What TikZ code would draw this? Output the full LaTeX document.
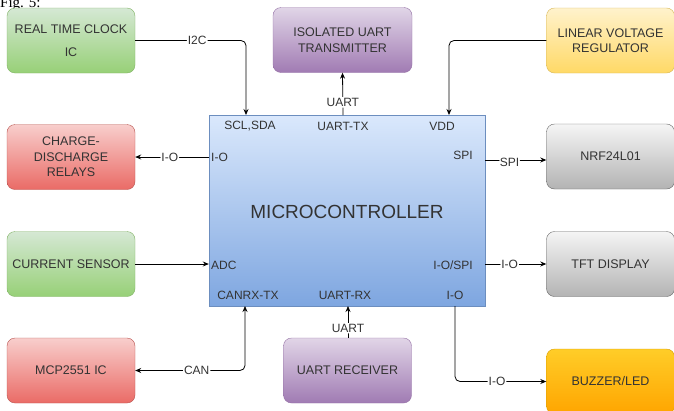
\documentclass[tikz,border=0pt]{standalone}
\usepackage{fontspec}
\setmainfont{Liberation Sans}
\newfontfamily\figfont{Liberation Serif}
\usetikzlibrary{arrows.meta,calc}
\definecolor{txtgray}{HTML}{333333}
\definecolor{grnTop}{HTML}{D5E8D4}
\definecolor{grnBot}{HTML}{97D077}
\definecolor{grnLine}{HTML}{82B366}
\definecolor{redTop}{HTML}{F8CECC}
\definecolor{redBot}{HTML}{EA6B66}
\definecolor{redLine}{HTML}{B85450}
\definecolor{purTop}{HTML}{E1D5E7}
\definecolor{purBot}{HTML}{A07BB3}
\definecolor{purLine}{HTML}{9673A6}
\definecolor{ylwTop}{HTML}{FFF2CC}
\definecolor{ylwBot}{HTML}{FFD966}
\definecolor{ylwLine}{HTML}{D6B656}
\definecolor{gryTop}{HTML}{F5F5F5}
\definecolor{gryBot}{HTML}{B3B3B3}
\definecolor{gryLine}{HTML}{666666}
\definecolor{bluTop}{HTML}{DAE8FC}
\definecolor{bluBot}{HTML}{7EA6E0}
\definecolor{bluLine}{HTML}{6C8EBF}
\definecolor{orgTop}{HTML}{FFCD28}
\definecolor{orgBot}{HTML}{FFA500}
\definecolor{orgLine}{HTML}{D79B00}

\begin{document}
\begin{tikzpicture}[
    x=1pt, y=-1pt,
    >={Stealth[length=6pt,width=5pt]},
    blk/.style={rounded corners=8pt, minimum width=128pt, minimum height=65pt,
                inner sep=2pt, align=center, text=txtgray,
                font=\fontsize{12.5}{15.5}\selectfont},
    green/.style={blk, draw=grnLine, top color=grnTop, bottom color=grnBot},
    red/.style={blk, draw=redLine, top color=redTop, bottom color=redBot},
    purple/.style={blk, draw=purLine, top color=purTop, bottom color=purBot},
    yellow/.style={blk, draw=ylwLine, top color=ylwTop, bottom color=ylwBot},
    grey/.style={blk, draw=gryLine, top color=gryTop, bottom color=gryBot},
    orange/.style={blk, draw=orgLine, top color=orgTop, bottom color=orgBot},
    mcu/.style={draw=bluLine, top color=bluTop, bottom color=bluBot,
                minimum width=276pt, minimum height=191pt},
    pin/.style={text=txtgray, inner sep=0pt, font=\fontsize{12}{14}\selectfont},
    bus/.style={draw=black, line width=0.8pt, rounded corners=5pt},
    lbl/.style={fill=white, inner sep=1pt, text=txtgray,
                font=\fontsize{12}{14}\selectfont},
]
\useasboundingbox (0,0) rectangle (674,410);

\node[anchor=base west, inner sep=0pt] (fig) at (0,7)
    {\figfont\fontsize{15}{15}\selectfont Fig. 5:};

% =====================================================================
% microcontroller and its pins
% =====================================================================
\node[mcu] (micro) at (347,210.5) {};
\node[text=txtgray, font=\fontsize{19}{21}\selectfont] (mname) at (347,212) {MICROCONTROLLER};

\node[pin] (sclsda) at (250,126) {SCL,SDA};
\node[pin] (uarttx) at (343,126) {UART-TX};
\node[pin] (vdd)    at (442,126) {VDD};
\node[pin, anchor=west] (iol) at (211,157) {I-O};
\node[pin, anchor=east] (spi) at (473,155) {SPI};
\node[pin, anchor=west] (adc) at (211,265) {ADC};
\node[pin, anchor=east] (iospi) at (473,265) {I-O/SPI};
\node[pin] (canrxtx) at (248,295) {CANRX-TX};
\node[pin] (uartrx)  at (345,295) {UART-RX};
\node[pin] (iob)     at (455,295) {I-O};

% pin points on the border
\coordinate (pSCL) at (246,115);
\coordinate (pTX)  at (343,115);
\coordinate (pVDD) at (449,115);
\coordinate (pCAN) at (245,306);
\coordinate (pRX)  at (348,306);
\coordinate (pIO)  at (455,306);

% =====================================================================
% peripheral blocks
% =====================================================================
\node[green]  (rtc)   at (71,40.5)  {REAL TIME CLOCK\\[7pt]IC};
\node[purple, minimum width=139pt] (isotx) at (342.5,40) {ISOLATED UART\\TRANSMITTER};
\node[yellow] (lvr)   at (610.5,40.5) {LINEAR VOLTAGE\\REGULATOR};
\node[red]    (relay) at (71,157)   {CHARGE-\\DISCHARGE\\RELAYS};
\node[grey]   (nrf)   at (610.5,156.5) {NRF24L01};
\node[green]  (cur)   at (71,264)   {CURRENT SENSOR};
\node[grey]   (tft)   at (610.5,264) {TFT DISPLAY};
\node[red]    (mcp)   at (71,370.5) {MCP2551 IC};
\node[purple] (uartrxb) at (347.5,370.5) {UART RECEIVER};
\node[orange] (buzz)  at (610.5,381.5) {BUZZER/LED};

% =====================================================================
% connections
% =====================================================================
\draw[bus,->] (rtc.east) -| (pSCL) node[lbl, pos=0.28] {I2C};
\draw[bus,->] (pTX) -- (isotx.south) node[lbl, pos=0.3] {UART};
\draw[bus,->] (lvr.west) -| (pVDD);
\draw[bus,->] (micro.west |- relay.east) -- (relay.east) node[lbl, pos=0.53] {I-O};
\draw[bus,->] (cur.east) -- (micro.west |- cur.east);
\draw[bus,->] (micro.east |- 0,160) -- (nrf.west |- 0,160) node[lbl, pos=0.4, yshift=-2pt] {SPI};
\draw[bus,->] (micro.east |- tft.west) -- (tft.west) node[lbl, pos=0.4] {I-O};
\draw[bus,<->] (mcp.east) -| (pCAN) node[lbl, pos=0.28] {CAN};
\draw[bus,->] (uartrxb.north -| pRX) -- (pRX) node[lbl, pos=0.3] {UART};
\draw[bus,->] (pIO) |- (buzz.west) node[lbl, pos=0.73] {I-O};

\end{tikzpicture}
\end{document}
